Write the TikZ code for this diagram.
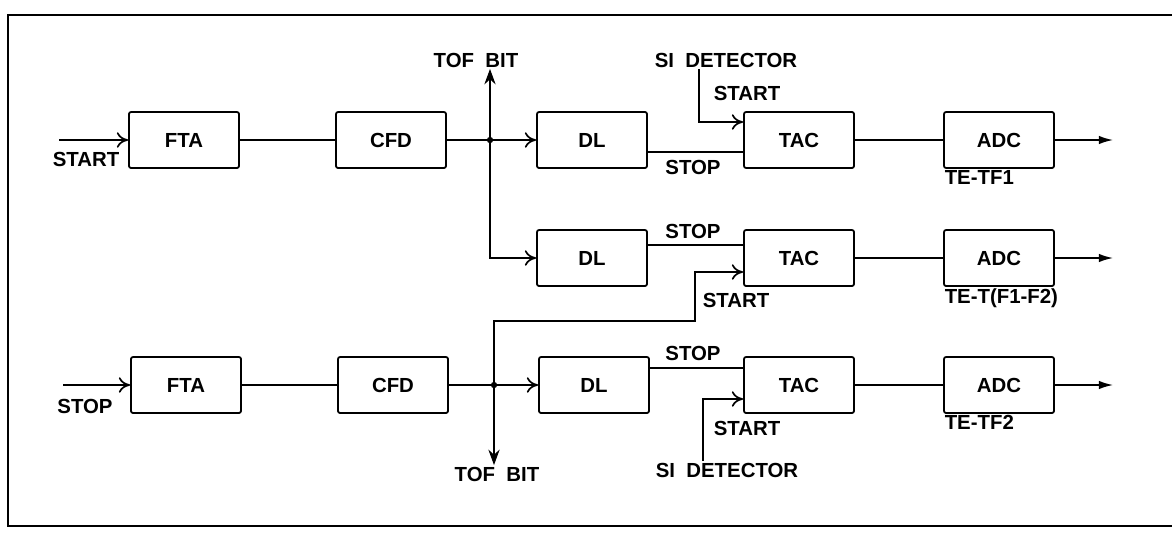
\documentclass[tikz,border=0pt]{standalone}
\usepackage{fontspec}
\setmainfont{Liberation Sans}
\usetikzlibrary{positioning, calc, arrows.meta}

\begin{document}
\begin{tikzpicture}[
    x=0.025cm, y=-0.025cm,
    % Node styles
    block/.style={
        draw,
        line width=1.3pt,
        rounded corners=1.5pt,
        minimum width=2.75cm,
        minimum height=1.4cm,
        inner sep=0pt,
        font=\fontsize{14.5}{17}\selectfont\bfseries
    },
    tag/.style={
        inner sep=1pt,
        font=\fontsize{14.5}{17}\selectfont\bfseries
    },
    dot/.style={
        circle,
        fill,
        inner sep=0pt,
        minimum size=4.5pt
    },
    % Connector styles
    wire/.style={line width=1.1pt},
    wire in/.style={wire, -{To[length=8pt,width=11pt,line width=1.2pt]}},
    wire out/.style={wire, -{Latex[length=10pt,width=6pt]}},
    wire bit/.style={wire, -{Stealth[length=11pt,width=8pt]}},
    frame/.style={line width=2pt, line cap=round}
]

\useasboundingbox (0,0) rectangle (1172,533);

% Row and column positions
\def\rowA{140}
\def\rowB{258}
\def\rowC{385}

% Outer frame
\draw[frame] (1172,15) -- (8,15) -- (8,526) -- (1172,526);

% Front ends (rows 1 and 3)
\node[block] (FTA-1) at (184,\rowA) {FTA};
\node[block] (CFD-1) at (391,\rowA) {CFD};
\node[block] (FTA-3) at (186,\rowC) {FTA};
\node[block] (CFD-3) at (393,\rowC) {CFD};

% Delay lines
\node[block] (DL-1) at (592,\rowA) {DL};
\node[block] (DL-2) at (592,\rowB) {DL};
\node[block] (DL-3) at (594,\rowC) {DL};

% TAC and ADC chains
\foreach \r/\y in {1/\rowA, 2/\rowB, 3/\rowC} {
    \node[block] (TAC-\r) at (799,\y) {TAC};
    \node[block] (ADC-\r) at (999,\y) {ADC};
    \coordinate (out-\r) at (1113,\y);
    \draw[wire] (TAC-\r) -- (ADC-\r);
    \draw[wire out] (ADC-\r) -- (out-\r);
}

% ADC labels
\node[tag, anchor=north west] at (ADC-1.south west) {TE-TF1};
\node[tag, anchor=north west] at (ADC-2.south west) {TE-T(F1-F2)};
\node[tag, anchor=north west] at (ADC-3.south west) {TE-TF2};

% Inputs
\coordinate (in-1) at (59,\rowA);
\coordinate (in-3) at (63,\rowC);
\draw[wire in] (in-1) -- (FTA-1);
\draw[wire in] (in-3) -- (FTA-3);
\node[tag] at (86,159) {START};
\node[tag] at (85,406) {STOP};

% Split points
\node[dot] (J-1) at (490,\rowA) {};
\node[dot] (J-3) at (494,\rowC) {};
\draw[wire] (FTA-1) -- (CFD-1) -- (J-1);
\draw[wire] (FTA-3) -- (CFD-3) -- (J-3);
\draw[wire in] (J-1) -- (DL-1);
\draw[wire in] (J-3) -- (DL-3);
\draw[wire in] (J-1) |- (DL-2.west);

% TOF bits
\node[tag] (tof-1) at (476,60) {TOF~~BIT};
\node[tag] (tof-3) at (497,474) {TOF~~BIT};
\draw[wire bit] (J-1) -- (J-1 |- tof-1.south);
\draw[wire bit] (J-3) -- (J-3 |- tof-3.north);

% STOP signals into the TACs
\draw[wire] ([yshift=-0.3cm]DL-1.east) -- ([yshift=-0.3cm]TAC-1.west);
\draw[wire] ([yshift=0.325cm]DL-2.east) -- ([yshift=0.325cm]TAC-2.west);
\draw[wire] ([yshift=0.425cm]DL-3.east) -- ([yshift=0.425cm]TAC-3.west);
\node[tag] at (693,167) {STOP};
\node[tag] at (693,231) {STOP};
\node[tag] at (693,353) {STOP};

% START signals into the TACs
\node[tag] (si-1) at (726,60) {SI~~DETECTOR};
\node[tag] (si-3) at (727,470) {SI~~DETECTOR};
\coordinate (bend) at (695,321);
\draw[wire in] ([xshift=-0.675cm]si-1.south) |- ([yshift=0.45cm]TAC-1.west);
\draw[wire in] (J-3) |- (bend) |- ([yshift=-0.35cm]TAC-2.west);
\draw[wire in] ([xshift=-0.6cm]si-3.north) |- ([yshift=-0.35cm]TAC-3.west);
\node[tag] at (747,93) {START};
\node[tag] at (736,300) {START};
\node[tag] at (747,428) {START};

\end{tikzpicture}
\end{document}
